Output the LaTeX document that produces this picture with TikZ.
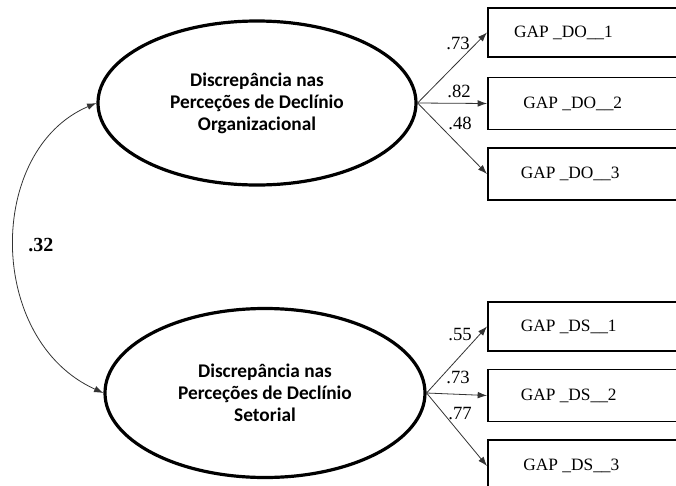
\documentclass[tikz,border=0pt]{standalone}
\usepackage{fontspec}
\setmainfont{Liberation Serif}
\newfontfamily\calibrifont{Carlito}
\usetikzlibrary{shapes.geometric,arrows.meta}
\newcommand\gaplabel[1]{\makebox[140pt][l]{#1}}
\begin{document}
\begin{tikzpicture}[x=0.75pt,y=-0.75pt,
  latent/.style={ellipse,draw,line width=2.4pt,inner sep=0pt,align=center,
    font=\calibrifont\bfseries\fontsize{14.5}{16.5}\selectfont},
  indicator/.style={rectangle,draw,line width=1.2pt,anchor=west,
    inner xsep=24.75pt,inner ysep=0pt,minimum height=39pt,
    font=\fontsize{13}{15}\selectfont},
  load/.style={-{Latex[length=7pt,width=5pt]},line width=0.6pt,draw=black!80},
  coef/.style={inner sep=0pt,font=\fontsize{14}{16}\selectfont},
]
\useasboundingbox (0,0) rectangle (676,486);

% latent variables
\node[latent,minimum width=238.5pt,minimum height=123pt] (org) at (257,103)
  {Discrepância nas\\Perceções de Declínio\\Organizacional};
\node[latent,minimum width=240pt,minimum height=126.75pt] (set) at (265,393)
  {Discrepância nas\\Perceções de Declínio\\Setorial};

% observed indicators (open on the right, running past the page edge)
\node[indicator,minimum height=37pt] (do1) at (487,32.5) {\gaplabel{\hspace*{-5pt}GAP \_DO\_\_1}};
\node[indicator] (do2) at (487,103.5) {\gaplabel{\hspace*{2pt}GAP \_DO\_\_2}};
\node[indicator] (do3) at (487,174) {\gaplabel{GAP \_DO\_\_3}};
\node[indicator,minimum height=37pt] (ds1) at (487,326.5) {\gaplabel{GAP \_DS\_\_1}};
\node[indicator] (ds2) at (487,395.5) {\gaplabel{GAP \_DS\_\_2}};
\node[indicator] (ds3) at (487,466) {\gaplabel{\hspace*{2pt}GAP \_DS\_\_3}};

% factor loadings
\draw[load] (org.east) -- (do1.west);
\draw[load] (org.east) -- (do2.west);
\draw[load] (org.east) -- (do3.west);
\draw[load] (set.east) -- (ds1.west);
\draw[load] (set.east) -- (ds2.west);
\draw[load] (set.east) -- (ds3.west);

\node[coef] (l1) at (458,43) {.73};
\node[coef] (l2) at (459,91) {.82};
\node[coef] (l3) at (460,123) {.48};
\node[coef] (l4) at (460,335) {.55};
\node[coef] (l5) at (458,377) {.73};
\node[coef] (l6) at (460,414) {.77};

% covariance between the latent variables
\draw[{Latex[length=7pt,width=5pt]}-{Latex[length=7pt,width=5pt]},line width=0.6pt,draw=black!80]
  (org.west) .. controls (-14,150) and (-14,340) .. (set.west);
\node[coef,font=\bfseries\fontsize{15}{17}\selectfont] (cov) at (41,245) {.32};
\end{tikzpicture}
\end{document}
